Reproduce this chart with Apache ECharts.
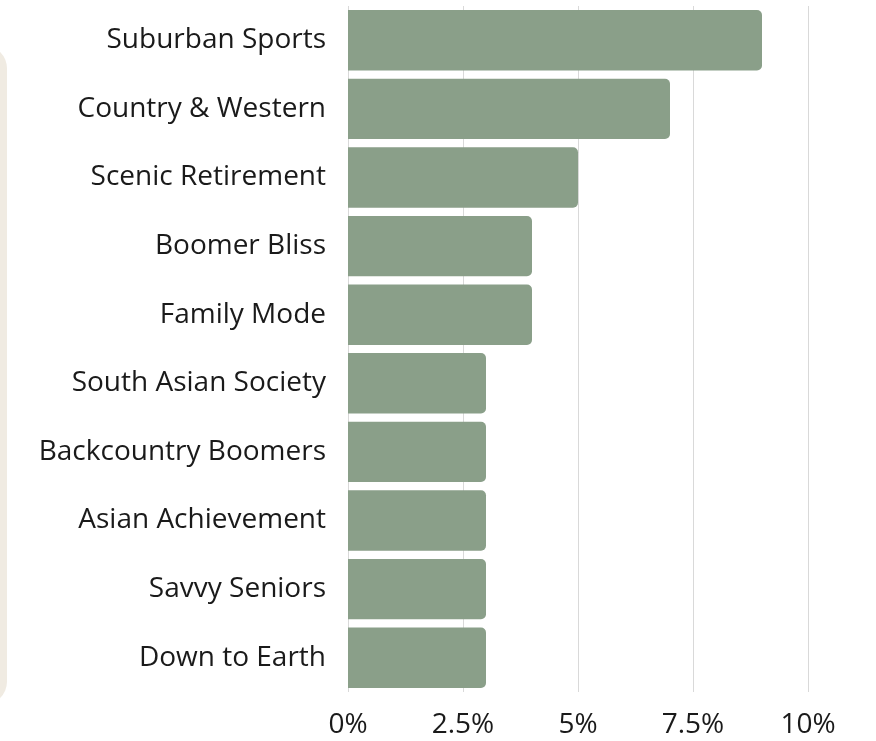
<!DOCTYPE html>
<html>
<head>
<meta charset="utf-8">
<script src="https://cdn.jsdelivr.net/npm/echarts@6/dist/echarts.min.js"></script>
<style>html,body{margin:0;padding:0;background:#fff}#c{width:876px;height:741px}</style>
</head>
<body>
<div id="c"></div>
<script>
const categories = ["Suburban Sports","Country & Western","Scenic Retirement","Boomer Bliss","Family Mode","South Asian Society","Backcountry Boomers","Asian Achievement","Savvy Seniors","Down to Earth"];
const values = [9, 7, 5, 4, 4, 3, 3, 3, 3, 3];
const xTicks = [0, 2.5, 5, 7.5, 10];

const chart = echarts.init(document.getElementById('c'), null, {renderer:'canvas'});
chart.setOption({
  animation:false,
  textStyle:{fontFamily:'Open Sans'},
  graphic:[{type:'rect', z:-10, shape:{x:-40,y:45,width:47,height:660,r:30}, style:{fill:'#f0ebe2'}}],
  grid:{left:348, right:68, top:6, bottom:49, containLabel:false},
  xAxis:{type:'value', min:0, max:10, interval:2.5,
    axisLine:{show:false}, axisTick:{show:false},
    splitLine:{show:true, lineStyle:{color:'#d9d9d9', width:1}},
    axisLabel:{fontSize:28, color:'#1a1a1a', margin:19, fontFamily:'Open Sans',
      formatter:v=> (xTicks.includes(v) ? v + '%' : '')}},
  yAxis:{type:'category', data:categories, inverse:true,
    axisLine:{show:false}, axisTick:{show:false},
    axisLabel:{fontSize:28, color:'#1a1a1a', margin:22, fontFamily:'Open Sans'}},
  series:[{type:'bar', data:values, barCategoryGap:'12%',
    itemStyle:{color:'#8a9f89', borderRadius:[0,5,5,0]}}]
});
</script>
</body>
</html>
